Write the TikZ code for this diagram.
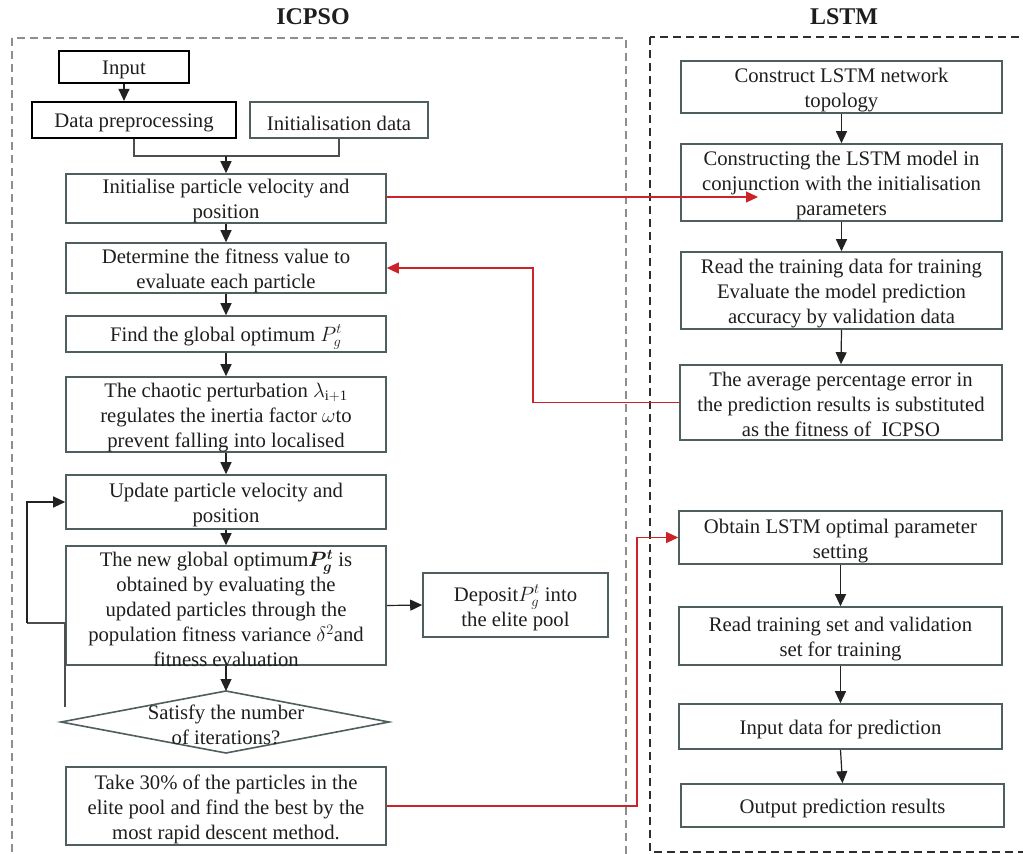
\documentclass[tikz,border=0pt]{standalone}
\usepackage{fontspec}
\setmainfont{Liberation Serif}
\usepackage{bm}
\usetikzlibrary{arrows.meta}

\definecolor{boxc}{HTML}{4F5E5E}
\definecolor{linec}{HTML}{222222}
\definecolor{txtc}{HTML}{1E1E1E}
\definecolor{redc}{HTML}{CC2229}
\definecolor{graydash}{HTML}{8E8E8E}
\definecolor{darkdash}{HTML}{2E2E2E}

\newcommand\bodyfont{\fontsize{20.7}{25}\selectfont}
\newcommand\headfont{\fontsize{24}{28}\selectfont\bfseries}

\begin{document}
\begin{tikzpicture}[x=1pt,y=-1pt,
  ftext/.style={font=\bodyfont, text=txtc, align=center, inner sep=0pt, yshift=-3pt},
  flow/.style={draw=boxc, line width=1.6pt, inner sep=0pt},
  blackbox/.style={flow, draw=black, line width=2.2pt},
  arr/.style={draw=linec, line width=1.2pt, -{Triangle[width=11pt,length=12pt]}},
  conn/.style={draw=linec!80, line width=1.2pt},
  redarr/.style={draw=redc, line width=1.2pt, -{Triangle[width=11pt,length=12pt]}},
  head/.style={font=\headfont, text=txtc, inner sep=0pt}]

\useasboundingbox (0,0) rectangle (1023,854);
\clip (0,0) rectangle (1023,854);

% group frames and headings
\draw[graydash, line width=1.3pt, dash pattern=on 8pt off 5pt] (12,38) rectangle (626,880);
\draw[darkdash, line width=1.6pt, dash pattern=on 8pt off 5pt] (650,37) rectangle (1040,852);
\node[head] (hpso) at (313,17) {ICPSO};
\node[head] (hlstm) at (844,17) {LSTM};

% ICPSO column
\node[blackbox, minimum width=130pt, minimum height=32pt,
  label={[ftext]center:Input}] (input) at (124,67) {};
\node[blackbox, minimum width=204pt, minimum height=36pt,
  label={[ftext]center:Data preprocessing}] (prep) at (134,120) {};
\node[flow, minimum width=178pt, minimum height=36pt,
  label={[ftext]center:Initialisation data}] (initd) at (339,120) {};
\node[flow, minimum width=320pt, minimum height=49pt,
  label={[ftext]center:{Initialise particle velocity and\\position}}] (initp) at (226,198.5) {};
\node[flow, minimum width=320pt, minimum height=50pt,
  label={[ftext]center:{Determine the fitness value to\\evaluate each particle}}] (fit) at (226,268) {};
\node[flow, minimum width=320pt, minimum height=36pt,
  label={[ftext]center:{Find the global optimum $P_g^{t}$}}] (glob) at (226,334) {};
\node[flow, minimum width=320pt, minimum height=75pt,
  label={[ftext]center:{The chaotic perturbation $\lambda_{\mathrm{i+1}}$\\regulates the inertia factor $\omega$to\\prevent falling into localised}}] (chaos) at (226,414.5) {};
\node[flow, minimum width=320pt, minimum height=54pt,
  label={[ftext]center:{Update particle velocity and\\position}}] (upd) at (226,502) {};
\node[flow, minimum width=320pt, minimum height=119pt,
  label={[ftext]center:{The new global optimum$\bm{P_g^{t}}$ is\\obtained by evaluating the\\updated particles through the\\population fitness variance $\delta^2$and\\fitness evaluation}}] (newg) at (226,605.5) {};
\node[flow, minimum width=185pt, minimum height=64pt,
  label={[ftext]center:{Deposit$P_g^{t}$ into\\the elite pool}}] (dep) at (515.5,605) {};
% decision
\coordinate (dtop) at (226,691);
\coordinate (dright) at (389,722);
\coordinate (dbot) at (226,753);
\coordinate (dleft) at (61,722);
\draw[boxc, line width=1.6pt] (dtop) -- (dright) -- (dbot) -- (dleft) -- cycle;
\node[ftext] (dtext) at (226,722)
  {Satisfy the number\\of iterations?};
\node[flow, minimum width=320pt, minimum height=78pt,
  label={[ftext]center:{Take 30\% of the particles in the\\elite pool and find the best by the\\most rapid descent method.}}] (take) at (226,806) {};

% LSTM column
\node[flow, minimum width=321pt, minimum height=52pt,
  label={[ftext]center:{Construct LSTM network\\topology}}] (c1) at (841.5,87) {};
\node[flow, minimum width=321pt, minimum height=77pt,
  label={[ftext]center:{Constructing the LSTM model in\\conjunction with the initialisation\\parameters}}] (c2) at (841.5,182.5) {};
\node[flow, minimum width=321pt, minimum height=77pt,
  label={[ftext]center:{Read the training data for training\\Evaluate the model prediction\\accuracy by validation data}}] (c3) at (841.5,290.5) {};
\node[flow, minimum width=322pt, minimum height=75pt,
  label={[ftext, yshift=1pt]center:{The average percentage error in\\the prediction results is substituted\\as the fitness of\ \ ICPSO}}] (c4) at (841,402.5) {};
\node[flow, minimum width=323pt, minimum height=53pt,
  label={[ftext, yshift=-1pt]center:{Obtain LSTM optimal parameter\\setting}}] (o1) at (840.5,537.5) {};
\node[flow, minimum width=323pt, minimum height=58pt,
  label={[ftext]center:{Read training set and validation\\set for training}}] (o2) at (840.5,636) {};
\node[flow, minimum width=323pt, minimum height=45pt,
  label={[ftext]center:{Input data for prediction}}] (o3) at (840.5,726.5) {};
\node[flow, minimum width=323pt, minimum height=43pt,
  label={[ftext]center:{Output prediction results}}] (o4) at (842.5,805.5) {};

% ICPSO flow
\draw[arr] (input.south) -- (input.south |- prep.north);
\coordinate (mrg) at (226,156);
\draw[conn] (prep.south) |- (mrg) -| (initd.south);
\draw[arr] (mrg) -- (initp.north);
\draw[arr] (initp.south) -- (fit.north);
\draw[arr] (fit.south) -- (glob.north);
\draw[arr] (glob.south) -- (chaos.north);
\draw[arr] (chaos.south) -- (upd.north);
\draw[arr] (upd.south) -- (newg.north);
\draw[arr] (newg.south) -- (dtop);
\draw[arr] (newg.east) -- (dep.west);
% loop back when the iteration count is not reached
\coordinate (loopstart) at (65,707);
\coordinate (loopcorner) at (27,623);
\draw[conn] (loopstart) -- (loopstart |- loopcorner) -- (loopcorner);
\draw[arr] (loopcorner) |- (upd.west);

% LSTM flow
\draw[arr] (c1.south) -- (c2.north);
\draw[arr] (c2.south) -- (c3.north);
\draw[arr] (c3.south) -- (c4.north);
\draw[arr] (o1.south) -- (o1.south |- o2.north);
\draw[arr] (o2.south) -- (o2.south |- o3.north);
\draw[arr] (o3.south) -- (o4.north);

% links between the two parts
\coordinate (c2in) at (758,197);
\draw[redarr] (initp.east |- c2in) -- (c2in);
\coordinate (fbx) at (533,0);
\draw[redarr] (c4.west) -- (fbx |- c4.west) |- (fit.east);
\coordinate (optx) at (637,0);
\draw[redarr] (take.east) -- (optx |- take.east) |- (o1.west);
\end{tikzpicture}
\end{document}
